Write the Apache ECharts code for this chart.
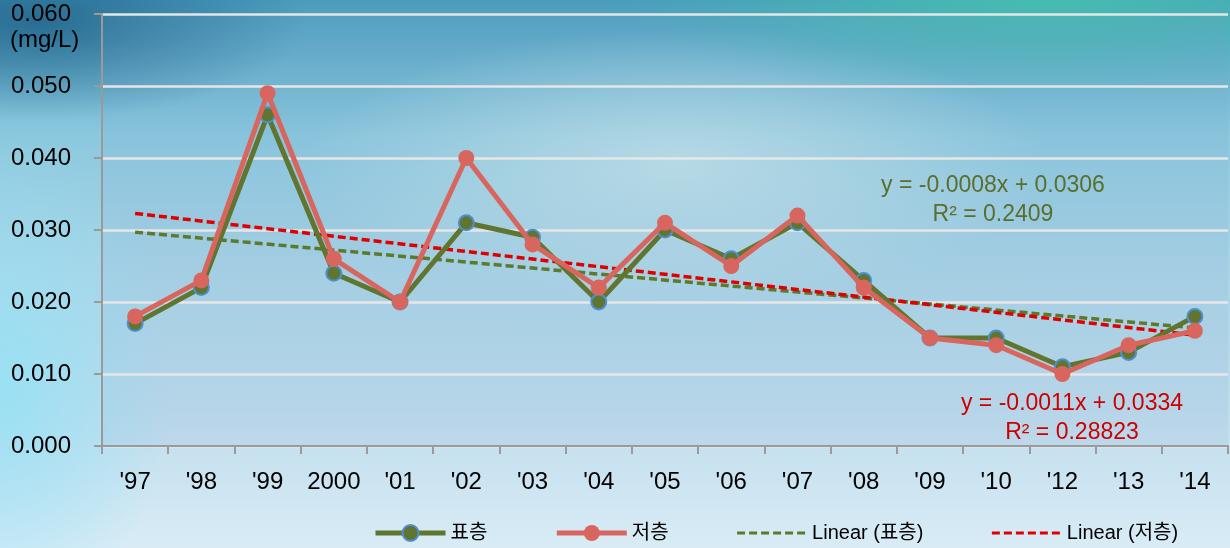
<!DOCTYPE html>
<html>
<head>
<meta charset="utf-8">
<script src="https://cdn.jsdelivr.net/npm/echarts@6/dist/echarts.min.js"></script>
<style>
html,body{margin:0;padding:0;width:1230px;height:548px;overflow:hidden;}
body{
  background:
    radial-gradient(ellipse 22% 18% at 3% 4%, rgba(30,95,135,0.8), rgba(30,95,135,0) 100%),
    radial-gradient(ellipse 35% 18% at 85% 0%, rgba(70,190,175,0.95), rgba(70,190,175,0) 100%),
    radial-gradient(ellipse 30% 25% at 55% 30%, rgba(205,232,235,0.75), rgba(205,232,235,0) 100%),
    radial-gradient(ellipse 14% 45% at 0% 70%, rgba(150,225,245,0.9), rgba(150,225,245,0) 100%),
    linear-gradient(to bottom, #4a9cbd 0%, #8cc9de 25%, #aad4e6 50%, #bfdcec 75%, #d9ecf6 100%);
}
#chart{width:1230px;height:548px;}
</style>
</head>
<body>
<div id="chart"></div>
<script>
const categories = ["'97","'98","'99","2000","'01","'02","'03","'04","'05","'06","'07","'08","'09","'10","'12","'13","'14"];
const surface = [0.017,0.022,0.046,0.024,0.020,0.031,0.029,0.020,0.030,0.026,0.031,0.023,0.015,0.015,0.011,0.013,0.018];
const bottom  = [0.018,0.023,0.049,0.026,0.020,0.040,0.028,0.022,0.031,0.025,0.032,0.022,0.015,0.014,0.010,0.014,0.016];
const trendSurfaceEnds = [0.0297, 0.0164];
const trendBottomEnds  = [0.0323, 0.0154];
const yTicks = [0, 0.01, 0.02, 0.03, 0.04, 0.05, 0.06];
const seriesNames = ['표층','저층','Linear (표층)','Linear (저층)'];
const eqSurface = ['y = -0.0008x + 0.0306', 'R² = 0.2409'];
const eqBottom  = ['y = -0.0011x + 0.0334', 'R² = 0.28823'];

function endsToData(ends){
  return categories.map((c,i)=> i===0 ? ends[0] : (i===categories.length-1 ? ends[1] : null));
}

const FONT = '"Liberation Sans","Noto Sans CJK KR",sans-serif';
const GREEN = '#5f7530';
const RED = '#d9665e';
const chart = echarts.init(document.getElementById('chart'));
chart.setOption({
  backgroundColor: 'transparent',
  textStyle: {fontFamily: FONT},
  grid: {left: 102, right: 2, top: 14, bottom: 102, backgroundColor: 'rgba(120,160,210,0.10)', show: true, borderWidth: 0},
  legend: {
    data: [
      {name: seriesNames[0], lineStyle: {width: 5}},
      {name: seriesNames[1], lineStyle: {width: 5}},
      {name: seriesNames[2], lineStyle: {width: 3}, itemStyle: {color: 'rgba(0,0,0,0)', borderWidth: 0}},
      {name: seriesNames[3], lineStyle: {width: 3}, itemStyle: {color: 'rgba(0,0,0,0)', borderWidth: 0}}
    ],
    left: 368, top: 518,
    itemWidth: 70, itemHeight: 20,
    itemGap: 67,
    textStyle: {fontSize: 20, color: '#000', fontFamily: FONT}
  },
  xAxis: {
    type: 'category',
    data: categories,
    boundaryGap: true,
    axisLine: {lineStyle: {color: '#9a9a9a', width: 2}},
    axisTick: {show: true, interval: 0, length: 8, lineStyle: {color: '#9a9a9a', width: 2}},
    axisLabel: {interval: 0, fontSize: 24, color: '#000', margin: 24, fontFamily: FONT}
  },
  yAxis: {
    type: 'value',
    min: yTicks[0], max: yTicks[yTicks.length-1], interval: 0.01,
    axisLine: {show: true, lineStyle: {color: '#9a9a9a', width: 2}},
    axisTick: {show: true, length: 8, lineStyle: {color: '#9a9a9a', width: 2}},
    axisLabel: {fontSize: 24, color: '#000', margin: 31, fontFamily: FONT, formatter: v => v.toFixed(3)},
    splitLine: {lineStyle: {color: '#e6e6e6', width: 2.5}}
  },
  series: [
    {
      name: seriesNames[2], type: 'line', data: endsToData(trendSurfaceEnds), connectNulls: true,
      symbol: 'none', z: 2, silent: true,
      lineStyle: {color: '#5b7a2b', width: 3.5, type: [8,4]}, itemStyle: {color: '#5b7a2b'}
    },
    {
      name: seriesNames[3], type: 'line', data: endsToData(trendBottomEnds), connectNulls: true,
      symbol: 'none', z: 2, silent: true,
      lineStyle: {color: '#e00000', width: 3.5, type: [8,4]}, itemStyle: {color: '#e00000'}
    },
    {
      name: seriesNames[0], type: 'line', data: surface, z: 3,
      symbol: 'circle', symbolSize: 15,
      lineStyle: {color: GREEN, width: 5},
      itemStyle: {color: GREEN, borderColor: '#4f8fd0', borderWidth: 2}
    },
    {
      name: seriesNames[1], type: 'line', data: bottom, z: 4,
      symbol: 'circle', symbolSize: 16,
      lineStyle: {color: RED, width: 5},
      itemStyle: {color: RED}
    }
  ],
  graphic: [
    {type: 'text', left: 10, top: 28, style: {text: '(mg/L)', font: '24px ' + FONT, fill: '#000'}},
    {type: 'text', x: 993, y: 186, style: {text: eqSurface[0], font: '23px ' + FONT, fill: '#5b6e2c', align: 'center', verticalAlign: 'middle'}},
    {type: 'text', x: 993, y: 215, style: {text: eqSurface[1], font: '23px ' + FONT, fill: '#5b6e2c', align: 'center', verticalAlign: 'middle'}},
    {type: 'text', x: 1072, y: 404, style: {text: eqBottom[0], font: '23px ' + FONT, fill: '#cc0000', align: 'center', verticalAlign: 'middle'}},
    {type: 'text', x: 1072, y: 433, style: {text: eqBottom[1], font: '23px ' + FONT, fill: '#cc0000', align: 'center', verticalAlign: 'middle'}}
  ]
});
</script>
</body>
</html>
